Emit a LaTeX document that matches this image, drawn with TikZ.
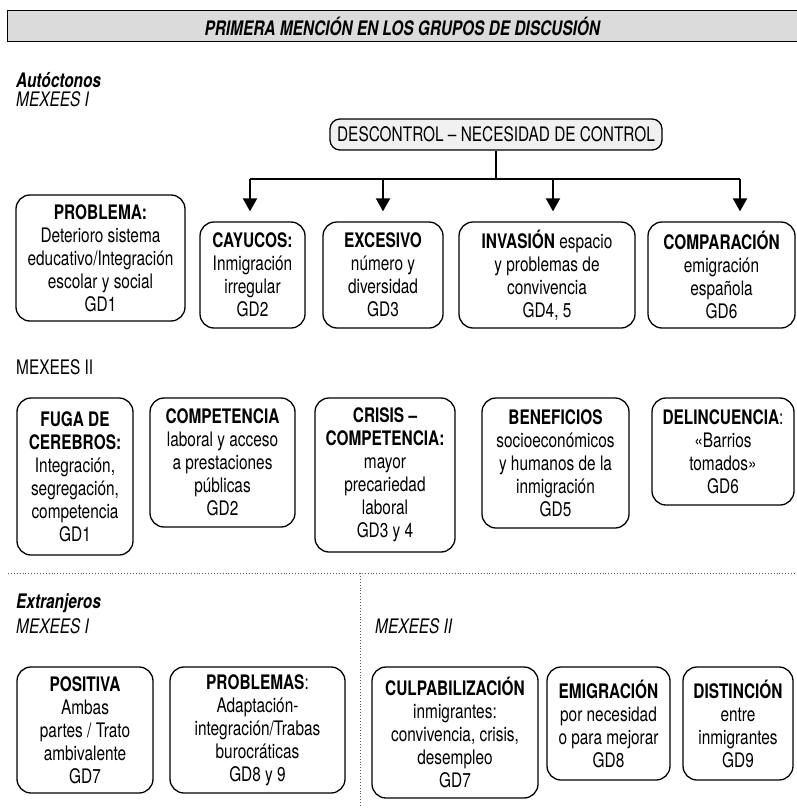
\documentclass[tikz,border=0pt]{standalone}
\usepackage{fontspec}
\setmainfont[FakeStretch=0.77]{TeX Gyre Heros}
\usetikzlibrary{arrows.meta}

\begin{document}
\begin{tikzpicture}[x=1pt,y=-1pt,
    caja/.style={rectangle,rounded corners=14pt,draw,line width=1.3pt,align=center,inner sep=0pt},
    etiqueta/.style={anchor=base west,inner sep=0pt},
    linea/.style={line width=2pt},
    flecha/.style={-{Triangle[width=14pt,length=13pt]},line width=2pt,shorten >=10pt},
    separa/.style={dotted,line width=0.9pt,black!65},
    font=\fontsize{20}{23}\selectfont]
  \useasboundingbox (0,0) rectangle (796,808);

  \node[draw,line width=1.3pt,fill=black!14,minimum width=790,minimum height=31,anchor=north west,inner sep=0pt] (titulo) at (7,10) {\textbf{\textit{PRIMERA MENCIÓN EN LOS GRUPOS DE DISCUSIÓN}}};

  \node[etiqueta] (auto) at (16,87) {\textbf{\textit{Autóctonos}}};
  \node[etiqueta] (auto1) at (16,106) {\textit{MEXEES I}};

  \node[caja,rounded corners=10pt,fill=black!6,minimum width=332,minimum height=31] (descontrol) at (496,134.5) {DESCONTROL – NECESIDAD DE CONTROL};

  \node[caja,minimum width=169,minimum height=126] (problema) at (100.5,258) {\textbf{PROBLEMA:}\\Deterioro sistema\\educativo/Integración\\escolar y social\\GD1};
  \node[caja,minimum width=105,minimum height=106] (cayucos) at (252.5,275) {\textbf{CAYUCOS:}\\Inmigración\\irregular\\GD2};
  \node[caja,minimum width=120,minimum height=106] (excesivo) at (383,275) {\textbf{EXCESIVO}\\número y\\diversidad\\GD3};
  \node[caja,minimum width=176,minimum height=106] (invasion) at (547,275) {\textbf{INVASIÓN} espacio\\y problemas de\\convivencia\\GD4, 5};
  \node[caja,minimum width=147,minimum height=106] (comparacion) at (721.5,275) {\textbf{COMPARACIÓN}\\emigración\\española\\GD6};

  \coordinate (b1) at (250,179);
  \coordinate (b2) at (383,179);
  \coordinate (b3) at (553,179);
  \coordinate (b4) at (740,179);
  \draw[linea] (descontrol.south) -- (descontrol.south |- b1);
  \draw[linea] (b1) -- (b4);
  \draw[flecha] (b1) -- (b1 |- cayucos.north);
  \draw[flecha] (b2) -- (b2 |- excesivo.north);
  \draw[flecha] (b3) -- (b3 |- invasion.north);
  \draw[flecha] (b4) -- (b4 |- comparacion.north);

  \node[etiqueta] (auto2) at (16,374) {MEXEES II};

  \node[caja,minimum width=116,minimum height=157] (fuga) at (75,476.5) {\textbf{FUGA DE}\\\textbf{CEREBROS:}\\Integración,\\segregación,\\competencia\\GD1};
  \node[caja,minimum width=145,minimum height=129] (competencia) at (222.5,462.5) {\textbf{COMPETENCIA}\\laboral y acceso\\a prestaciones\\públicas\\GD2};
  \node[caja,minimum width=140,minimum height=154] (crisis) at (385,475) {\textbf{CRISIS –}\\\textbf{COMPETENCIA:}\\mayor\\precariedad\\laboral\\GD3 y 4};
  \node[caja,minimum width=147,minimum height=130] (beneficios) at (555.5,463) {\textbf{BENEFICIOS}\\socioeconómicos\\y humanos de la\\inmigración\\GD5};
  \node[caja,minimum width=142,minimum height=107] (delincuencia) at (723,451.5) {\textbf{DELINCUENCIA}:\\«Barrios\\tomados»\\GD6};

  \draw[separa] (8,573) -- (796,573);
  \draw[separa] (360,573) -- (360,808);

  \node[etiqueta] (extra) at (16,608) {\textbf{\textit{Extranjeros}}};
  \node[etiqueta] (extra1) at (16,633) {\textit{MEXEES I}};
  \node[etiqueta] (extra2) at (375,633) {\textit{MEXEES II}};

  \node[caja,minimum width=136,minimum height=126] (positiva) at (85,730) {\textbf{POSITIVA}\\Ambas\\partes / Trato\\ambivalente\\GD7};
  \node[caja,minimum width=175,minimum height=126] (problemas) at (257.5,730) {\textbf{PROBLEMAS}:\\Adaptación-\\integración/Trabas\\burocráticas\\GD8 y 9};
  \node[caja,minimum width=166,minimum height=131] (culpa) at (455,732.5) {\textbf{CULPABILIZACIÓN}\\inmigrantes:\\convivencia, crisis,\\desempleo\\GD7};
  \node[caja,minimum width=123,minimum height=113] (emigracion) at (608.5,723.5) {\textbf{EMIGRACIÓN}\\por necesidad\\o para mejorar\\GD8};
  \node[caja,minimum width=110,minimum height=113] (distincion) at (738,723.5) {\textbf{DISTINCIÓN}\\entre\\inmigrantes\\GD9};
\end{tikzpicture}
\end{document}
